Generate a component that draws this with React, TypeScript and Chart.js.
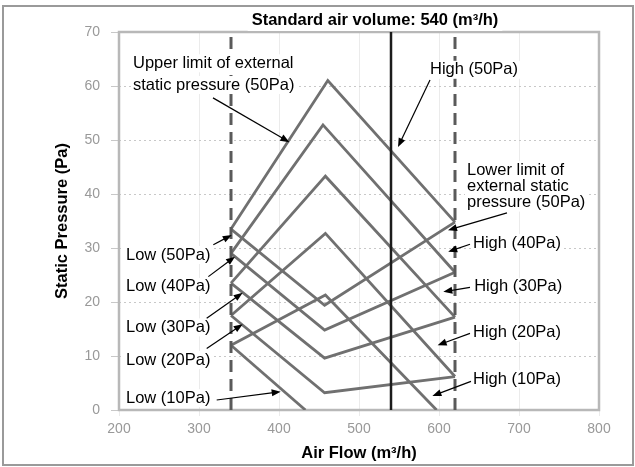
import React, { useEffect, useRef } from "react";
import { Chart, registerables } from "chart.js";

Chart.register(...registerables);

// ---------------- data ----------------
const settings = ["10Pa", "20Pa", "30Pa", "40Pa", "50Pa"];
const xTickValues = [200, 300, 400, 500, 600, 700, 800];
const yTickValues = [0, 10, 20, 30, 40, 50, 60, 70];

const lowerFlowLimit = 340; // left dashed line
const upperFlowLimit = 620; // right dashed line
const standardFlow = 540; // standard air volume

// Inverted V: upper limit (rising) + High fan line (falling)
const upperFlows = [
  [340, 458, 597],
  [340, 458, 620],
  [340, 458, 620],
  [340, 455, 620],
  [340, 461, 620],
];
const upperPressures = [
  [12, 21.3, 0],
  [17.5, 32.7, 6.2],
  [23.5, 43.3, 17.2],
  [29, 52.8, 25.5],
  [33.5, 61, 34.8],
];
// Upright V: Low fan line (falling) + lower limit (rising)
const lowerFlows = [
  [340, 433],
  [340, 457, 620],
  [340, 457, 620],
  [340, 457, 620],
  [340, 457, 620],
];
const lowerPressures = [
  [12, 0],
  [17.5, 3.2, 6.2],
  [23.5, 9.6, 17.2],
  [29, 14.8, 25.5],
  [33.5, 19.4, 34.8],
];

const titleText = "Standard air volume: 540 (m³/h)";
const xTitle = "Air Flow (m³/h)";
const yTitle = "Static Pressure (Pa)";

// annotation texts, anchored in data coordinates
const notes = [
  { lines: ["Upper limit of external", "static pressure (50Pa)"], x: 217.5, y: 64.2, gap: 21.7, tail: [317.5, 57.8], tip: [413, 49.6] },
  { lines: ["High (50Pa)"], x: 588.75, y: 63, gap: 0, tail: [588.75, 61.1], tip: [548.75, 48.7] },
  { lines: ["Lower limit of", "external static", "pressure (50Pa)"], x: 635, y: 44.4, gap: 16.2, tail: [685, 36.5], tip: [611.25, 33.3] },
  { lines: ["High (40Pa)"], x: 642.5, y: 30.9, gap: 0, tail: [638.75, 30.7], tip: [611.5, 29.3] },
  { lines: ["High (30Pa)"], x: 644, y: 22.8, gap: 0, tail: [638.75, 22.7], tip: [605.4, 21.9] },
  { lines: ["High (20Pa)"], x: 642.5, y: 14.3, gap: 0, tail: [638.75, 14.2], tip: [598.3, 12] },
  { lines: ["High (10Pa)"], x: 642.5, y: 5.7, gap: 0, tail: [640, 5.3], tip: [591.7, 2.6] },
  { lines: ["Low (50Pa)"], x: 208.75, y: 28.7, gap: 0, tail: [317.9, 30.6], tip: [340.9, 32.4] },
  { lines: ["Low (40Pa)"], x: 208.75, y: 22.8, gap: 0, tail: [311.7, 24.7], tip: [345, 28.4] },
  { lines: ["Low (30Pa)"], x: 208.75, y: 15.3, gap: 0, tail: [309.6, 17], tip: [354.6, 21.7] },
  { lines: ["Low (20Pa)"], x: 208.75, y: 9.26, gap: 0, tail: [309.6, 11.4], tip: [354.6, 15.9] },
  { lines: ["Low (10Pa)"], x: 208.75, y: 2.2, gap: 0, tail: [322.1, 1.85], tip: [402.1, 3.4] },
];

const FONT = "'Liberation Sans', Arial, sans-serif";

function drawArrow(ctx: CanvasRenderingContext2D, x1: number, y1: number, x2: number, y2: number) {
  const ang = Math.atan2(y2 - y1, x2 - x1);
  const len = 9;
  const hw = 3.5;
  ctx.beginPath();
  ctx.moveTo(x1, y1);
  ctx.lineTo(x2 - Math.cos(ang) * len * 0.8, y2 - Math.sin(ang) * len * 0.8);
  ctx.strokeStyle = "#000";
  ctx.lineWidth = 1.2;
  ctx.stroke();
  ctx.beginPath();
  ctx.moveTo(x2, y2);
  ctx.lineTo(x2 - Math.cos(ang) * len - Math.sin(ang) * hw, y2 - Math.sin(ang) * len + Math.cos(ang) * hw);
  ctx.lineTo(x2 - Math.cos(ang) * len + Math.sin(ang) * hw, y2 - Math.sin(ang) * len - Math.cos(ang) * hw);
  ctx.closePath();
  ctx.fillStyle = "#000";
  ctx.fill();
}

const decor = {
  id: "decor",
  beforeDraw(chart: any) {
    const ctx = chart.ctx as CanvasRenderingContext2D;
    ctx.save();
    ctx.fillStyle = "#fff";
    ctx.fillRect(0, 0, chart.width, chart.height);
    ctx.strokeStyle = "#9a9a9a";
    ctx.lineWidth = 2;
    ctx.strokeRect(3, 6, chart.width - 5, chart.height - 8);
    ctx.restore();
  },
  beforeDatasetsDraw(chart: any) {
    const ctx = chart.ctx as CanvasRenderingContext2D;
    const a = chart.chartArea;
    ctx.save();
    ctx.strokeStyle = "#b8b8b8";
    ctx.lineWidth = 2.5;
    ctx.strokeRect(a.left, a.top, a.right - a.left, a.bottom - a.top);
    ctx.restore();
  },
  afterDatasetsDraw(chart: any) {
    const ctx = chart.ctx as CanvasRenderingContext2D;
    const xs = chart.scales.x;
    const ys = chart.scales.y;
    ctx.save();
    // title
    ctx.font = `bold 16.5px ${FONT}`;
    ctx.textBaseline = "middle";
    ctx.textAlign = "center";
    const tw = ctx.measureText(titleText).width;
    const tx = 375;
    ctx.fillStyle = "#fff";
    ctx.fillRect(tx - tw / 2 - 4, 9, tw + 8, 22);
    ctx.fillStyle = "#000";
    ctx.fillText(titleText, tx, 20);

    ctx.font = `16.5px ${FONT}`;
    ctx.textAlign = "left";
    for (const n of notes) {
      const px = xs.getPixelForValue(n.x);
      const py = ys.getPixelForValue(n.y);
      n.lines.forEach((t, i) => {
        const w = ctx.measureText(t).width;
        const yy = py + i * n.gap;
        ctx.fillStyle = "#fff";
        ctx.fillRect(px - 2, yy - 9, w + 4, 18);
        ctx.fillStyle = "#000";
        ctx.fillText(t, px, yy);
      });
      drawArrow(
        ctx,
        xs.getPixelForValue(n.tail[0]),
        ys.getPixelForValue(n.tail[1]),
        xs.getPixelForValue(n.tip[0]),
        ys.getPixelForValue(n.tip[1])
      );
    }
    ctx.restore();
  },
};

function vline(x: number, color: string, width: number, dash: number[], label: string) {
  return {
    label,
    data: [
      { x, y: yTickValues[0] },
      { x, y: yTickValues[yTickValues.length - 1] },
    ],
    borderColor: color,
    borderWidth: width,
    borderDash: dash,
    pointRadius: 0,
    fill: false,
    tension: 0,
  };
}

export default function App() {
  const ref = useRef<HTMLCanvasElement>(null);
  useEffect(() => {
    document.body.style.margin = "0";
    const canvas = ref.current!;
    const datasets: any[] = [];
    datasets.push(vline(standardFlow, "#1c1c1c", 2.5, [], "Standard"));
    datasets.push(vline(lowerFlowLimit, "#5a5a5a", 3, [12, 7], "Min flow"));
    datasets.push(vline(upperFlowLimit, "#5a5a5a", 3, [12, 7], "Max flow"));
    settings.forEach((s, i) => {
      datasets.push({
        label: `Upper/High ${s}`,
        data: upperFlows[i].map((x, j) => ({ x, y: upperPressures[i][j] })),
        borderColor: "#707070",
        borderWidth: 2.8,
        pointRadius: 0,
        fill: false,
        tension: 0,
      });
      datasets.push({
        label: `Low/Lower ${s}`,
        data: lowerFlows[i].map((x, j) => ({ x, y: lowerPressures[i][j] })),
        borderColor: "#707070",
        borderWidth: 2.8,
        pointRadius: 0,
        fill: false,
        tension: 0,
      });
    });

    const chart = new Chart(canvas, {
      type: "line",
      data: { datasets },
      options: {
        animation: false,
        responsive: false,
        devicePixelRatio: 1,
        layout: { padding: { left: 0, right: 36, top: 32, bottom: 0 } },
        plugins: { legend: { display: false }, tooltip: { enabled: false } },
        scales: {
          x: {
            type: "linear",
            min: xTickValues[0],
            max: xTickValues[xTickValues.length - 1],
            afterBuildTicks: (s: any) => {
              s.ticks = xTickValues.map((v) => ({ value: v }));
            },
            afterFit: (s: any) => {
              s.height = 57;
            },
            grid: { color: "#ebebeb", tickLength: 6, lineWidth: 1 },
            border: { display: false },
            ticks: { color: "#999999", font: { family: FONT, size: 14 }, padding: 5, maxRotation: 0 },
            title: {
              display: true,
              text: xTitle,
              color: "#000",
              font: { family: FONT, size: 16.5, weight: "bold" },
              padding: { top: 0, bottom: 4 },
            },
          },
          y: {
            type: "linear",
            min: yTickValues[0],
            max: yTickValues[yTickValues.length - 1],
            afterBuildTicks: (s: any) => {
              s.ticks = yTickValues.map((v) => ({ value: v }));
            },
            afterFit: (s: any) => {
              s.width = 119;
            },
            grid: { color: "#c8c8c8", tickLength: 8, lineWidth: 1 },
            border: { display: false, dash: [2, 3] },
            ticks: { color: "#999999", font: { family: FONT, size: 14 }, padding: 11 },
            title: {
              display: true,
              text: yTitle,
              color: "#000",
              font: { family: FONT, size: 16.5, weight: "bold" },
              padding: { top: 53, bottom: 0 },
            },
          },
        },
      } as any,
      plugins: [decor],
    });
    return () => chart.destroy();
  }, []);
  return <canvas ref={ref} width={635} height={467} style={{ display: "block" }} />;
}
